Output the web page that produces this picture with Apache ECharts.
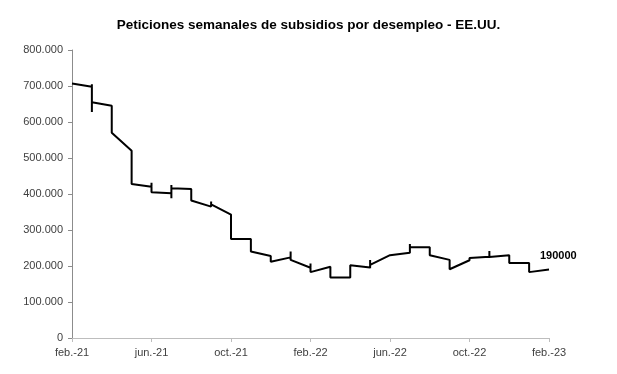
<!DOCTYPE html>
<html>
<head>
<meta charset="utf-8">
<script src="https://cdn.jsdelivr.net/npm/echarts@6/dist/echarts.min.js"></script>
<style>html,body{margin:0;padding:0;background:#fff}#c{width:617px;height:374px}</style>
</head>
<body>
<div id="c"></div>
<script>
// Month index (0 = feb.-21 ... 24 = feb.-23) for each weekly value, as plotted on a monthly date axis
const weekMonth = [0, 1,1,1,1, 2,2, 3,3, 4,4,4, 5,5,5,5, 6,6, 7,7,7, 8,8, 9,9, 10,10,
  11,11,11,11, 12,12,12,12, 13,13, 14,14, 15,15,15,15, 16, 17,17,17, 18,18, 19,19,
  20,20,20, 21,21,21, 22,22, 23,23, 24];
// Weekly initial claims (thousands)
const claimsK = [707, 698,705,628,655, 645,570, 520,428, 420,431,405, 402,388,425,416, 414,382,
  365,379,371, 343,275, 275,240, 228,212, 224,240,217,222, 195,207,183,185, 198,168, 168,202,
  196,217,194,203, 230, 237,261,252, 252,230, 217,191, 216,222,218, 226,242,225, 230,208, 208,183, 190];
const tickLabels = ['feb.-21','jun.-21','oct.-21','feb.-22','jun.-22','oct.-22','feb.-23'];
const yTicks = [0,100000,200000,300000,400000,500000,600000,700000,800000];
const titleText = 'Peticiones semanales de subsidios por desempleo - EE.UU.';

const data = weekMonth.map((m, i) => [m, claimsK[i] * 1000]);

const fmtY = v => v === 0 ? '0' : String(v).replace(/\B(?=(\d{3})+(?!\d))/g, '.');

const chart = echarts.init(document.getElementById('c'), null, {renderer: 'canvas'});
chart.setOption({
  animation: false,
  backgroundColor: '#fff',
  title: {
    text: titleText, left: 'center', top: 13,
    textStyle: {fontFamily: 'Liberation Sans', fontWeight: 'bold', fontSize: 13.5, color: '#000'}
  },
  grid: {left: 72, right: 68, top: 50, bottom: 36, containLabel: false},
  xAxis: {
    type: 'value', min: 0, max: 24, interval: 4,
    axisLine: {show: true, lineStyle: {color: '#bdbdbd', width: 1}},
    axisTick: {show: true, length: 4, lineStyle: {color: '#bdbdbd'}},
    splitLine: {show: false},
    axisLabel: {
      formatter: v => tickLabels[v / 4] || '',
      fontFamily: 'Liberation Sans', fontSize: 11, color: '#404040', margin: 9
    }
  },
  yAxis: {
    type: 'value', min: yTicks[0], max: yTicks[yTicks.length - 1], interval: yTicks[1] - yTicks[0],
    axisLine: {show: true, lineStyle: {color: '#8c8c8c', width: 1}},
    axisTick: {show: true, length: 4, lineStyle: {color: '#8c8c8c'}},
    splitLine: {show: false},
    axisLabel: {formatter: fmtY, fontFamily: 'Liberation Sans', fontSize: 11, color: '#404040', margin: 9}
  },
  series: [{
    type: 'line', data: data, showSymbol: false, symbol: 'none',
    lineStyle: {color: '#000', width: 2}, z: 3,
    endLabel: {
      show: true, formatter: p => String(p.value[1]), offset: [-17, -14],
      fontFamily: 'Liberation Sans', fontWeight: 'bold', fontSize: 11, color: '#000'
    }
  }]
});
</script>
</body>
</html>
